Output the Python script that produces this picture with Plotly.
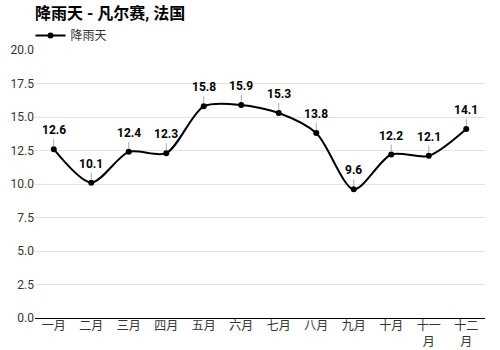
import plotly.graph_objects as go

months = ["一月", "二月", "三月", "四月", "五月", "六月", "七月", "八月", "九月", "十月", "十一<br>月", "十二<br>月"]
rain_days = [12.6, 10.1, 12.4, 12.3, 15.8, 15.9, 15.3, 13.8, 9.6, 12.2, 12.1, 14.1]
y_ticks = [0, 2.5, 5, 7.5, 10, 12.5, 15, 17.5, 20]

font_family = "Roboto, 'Noto Sans CJK SC', sans-serif"

fig = go.Figure()
fig.add_trace(go.Scatter(
    x=months, y=rain_days, mode="lines+markers", name="降雨天",
    line=dict(color="#000000", width=2, shape="spline", smoothing=0.8),
    marker=dict(color="#000000", size=6),
))

for m, v in zip(months, rain_days):
    fig.add_annotation(
        x=m, y=v, text=f"<b>{v:.1f}</b>", showarrow=True, arrowhead=0,
        arrowwidth=1, arrowcolor="#aaaaaa", ax=0, ay=-10, standoff=3,
        font=dict(size=12, color="#000000", family=font_family),
        yanchor="bottom",
    )

fig.update_layout(
    width=500, height=350,
    margin=dict(l=35, r=15, t=50, b=32),
    plot_bgcolor="white", paper_bgcolor="white",
    font=dict(family=font_family, size=12, color="#333333"),
    title=dict(text="<b>降雨天 - 凡尔赛, 法国</b>", xref="paper", x=0, xanchor="left",
               y=0.978, yanchor="top", font=dict(size=16, color="#000000")),
    showlegend=True,
    legend=dict(x=-0.01, xanchor="left", y=1.0, yanchor="bottom", orientation="h",
                font=dict(size=12, color="#333333"), bgcolor="rgba(0,0,0,0)"),
    xaxis=dict(showgrid=False, showline=True, linecolor="#000000", linewidth=1,
               range=[-0.5, 11.5], ticks="", automargin=False, ticklabelstandoff=-3,
               tickfont=dict(size=12, color="#333333")),
    yaxis=dict(range=[0, 20], tickvals=y_ticks,
               ticktext=[f"{t:.1f}" for t in y_ticks], automargin=False,
               showgrid=True, gridcolor="#e3e3e3", gridwidth=1,
               zeroline=False, tickfont=dict(size=12, color="#333333")),
)

fig.write_html("out.html")
